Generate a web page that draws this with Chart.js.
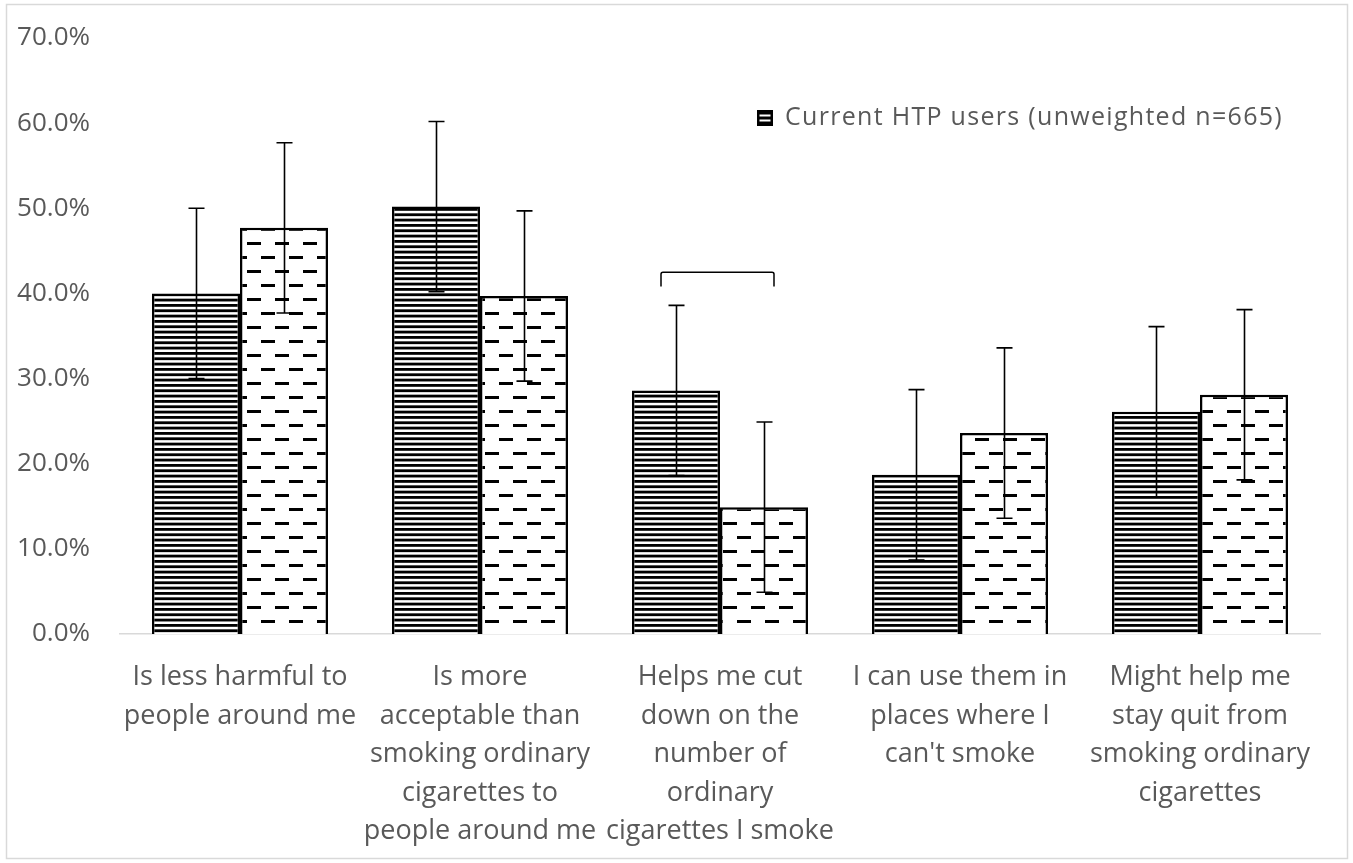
<!DOCTYPE html>
<html>
<head>
<meta charset="utf-8">
<script src="https://cdn.jsdelivr.net/npm/chart.js@4/dist/chart.umd.min.js"></script>
<style>
  html, body { margin: 0; padding: 0; background: #fff; }
  #wrap { width: 1353px; height: 863px; }
</style>
</head>
<body>
<div id="wrap"><canvas id="c" width="1353" height="863"></canvas></div>
<script>
// Reasons for using heated tobacco products, share agreeing (%)
const categories = [
  ["Is less harmful to", "people around me"],
  ["Is more", "acceptable than", "smoking ordinary", "cigarettes to", "people around me"],
  ["Helps me cut", "down on the", "number of", "ordinary", "cigarettes I smoke"],
  ["I can use them in", "places where I", "can't smoke"],
  ["Might help me", "stay quit from", "smoking ordinary", "cigarettes"]
];
const currentUsers = [40.0, 50.2, 28.6, 18.7, 26.1];
const currentUsersErr = [10.0, 10.0, 10.0, 10.0, 10.0];
const secondGroup = [47.7, 39.7, 14.9, 23.6, 28.1];
const secondGroupErr = [10.0, 10.0, 10.0, 10.0, 10.0];
const legendLabel = "Current HTP users (unweighted n=665)";
const yTicks = [0, 10, 20, 30, 40, 50, 60, 70];
// comparison bracket over the third category: [category index, top value, foot value]
const bracket = [2, 42.5, 40.8];

const TEXT = '#595959';
const FONT = '"Open Sans", "DejaVu Sans", sans-serif';

// horizontal-stripe fill
function stripePattern() {
  const t = document.createElement('canvas');
  t.width = 16; t.height = 16;
  const g = t.getContext('2d');
  g.fillStyle = '#fff'; g.fillRect(0, 0, 16, 16);
  g.fillStyle = '#000';
  for (let i = 0; i < 3; i++) g.fillRect(0, i * 16 / 3, 16, 2.8);
  return g.createPattern(t, 'repeat');
}
// staggered dash fill
function dashPattern() {
  const t = document.createElement('canvas');
  t.width = 28; t.height = 28;
  const g = t.getContext('2d');
  g.fillStyle = '#fff'; g.fillRect(0, 0, 28, 28);
  g.fillStyle = '#000';
  g.fillRect(9, 4, 14, 3);
  g.fillRect(23, 18, 14, 3);
  g.fillRect(-5, 18, 14, 3);
  return g.createPattern(t, 'repeat');
}

const frame = {
  id: 'frame',
  beforeDraw(chart) {
    const c = chart.ctx;
    c.save();
    c.fillStyle = '#fff';
    c.fillRect(0, 0, chart.width, chart.height);
    c.strokeStyle = '#d9d9d9';
    c.lineWidth = 1.5;
    c.strokeRect(6.5, 4.5, 1341, 854);
    c.restore();
  }
};

const errorBars = {
  id: 'errorBars',
  afterDatasetsDraw(chart) {
    const c = chart.ctx;
    const y = chart.scales.y;
    const errs = [currentUsersErr, secondGroupErr];
    c.save();
    c.strokeStyle = '#000';
    c.lineWidth = 1.6;
    chart.data.datasets.forEach((ds, di) => {
      const meta = chart.getDatasetMeta(di);
      meta.data.forEach((bar, i) => {
        const v = ds.data[i], e = errs[di][i];
        const x = Math.round(bar.x) + 0.5;
        const yt = y.getPixelForValue(v + e);
        const yb = y.getPixelForValue(v - e);
        c.beginPath();
        c.moveTo(x, yt); c.lineTo(x, yb);
        c.moveTo(x - 8, yt); c.lineTo(x + 8, yt);
        c.moveTo(x - 8, yb); c.lineTo(x + 8, yb);
        c.stroke();
      });
    });
    // bracket
    const [bi, top, foot] = bracket;
    const b0 = chart.getDatasetMeta(0).data[bi];
    const b1 = chart.getDatasetMeta(1).data[bi];
    const xl = b0.x - 15, xr = b1.x + 10;
    const yt = y.getPixelForValue(top), yf = y.getPixelForValue(foot);
    c.lineWidth = 1.5;
    c.beginPath();
    c.moveTo(xl, yf); c.lineTo(xl, yt + 2);
    c.quadraticCurveTo(xl, yt, xl + 2, yt);
    c.lineTo(xr - 2, yt);
    c.quadraticCurveTo(xr, yt, xr, yt + 2);
    c.lineTo(xr, yf);
    c.stroke();
    c.restore();
  }
};

const legendBox = {
  id: 'legendBox',
  afterDraw(chart) {
    const c = chart.ctx;
    c.save();
    const bx = 757, by = 110;
    c.fillStyle = '#000';
    c.fillRect(bx, by, 16, 16);
    c.fillStyle = '#fff';
    c.fillRect(bx + 2.5, by + 4.5, 11, 2);
    c.fillRect(bx + 2.5, by + 9.5, 11, 2);
    c.fillStyle = TEXT;
    c.font = '25px ' + FONT;
    if ('letterSpacing' in c) c.letterSpacing = '1.3px';
    c.textBaseline = 'middle';
    c.textAlign = 'left';
    c.fillText(legendLabel, 785, 118);
    c.restore();
  }
};

new Chart(document.getElementById('c'), {
  type: 'bar',
  data: {
    labels: categories,
    datasets: [
      {
        label: legendLabel,
        data: currentUsers,
        backgroundColor: stripePattern(),
        borderColor: '#000',
        borderWidth: 2.5,
        borderSkipped: 'start',
        categoryPercentage: 0.7333,
        barPercentage: 1.0
      },
      {
        label: '',
        data: secondGroup,
        backgroundColor: dashPattern(),
        borderColor: '#000',
        borderWidth: 2.5,
        borderSkipped: 'start',
        categoryPercentage: 0.7333,
        barPercentage: 1.0
      }
    ]
  },
  options: {
    responsive: false,
    animation: false,
    devicePixelRatio: 1,
    layout: { padding: { left: 10, right: 33, top: 38, bottom: 0 } },
    plugins: {
      legend: { display: false },
      tooltip: { enabled: false }
    },
    scales: {
      x: {
        grid: { display: false, drawTicks: false },
        border: { display: true, color: '#d9d9d9', width: 1.5 },
        ticks: {
          color: TEXT,
          padding: 24,
          maxRotation: 0,
          autoSkip: false,
          font: { family: FONT, size: 27, lineHeight: 1.43 }
        },
        afterFit(s) { s.height = 229; s.paddingLeft = 0; s.paddingRight = 0; }
      },
      y: {
        min: 0,
        max: 70,
        grid: { display: false, drawTicks: false },
        border: { display: false },
        afterBuildTicks(s) { s.ticks = yTicks.map(v => ({ value: v })); },
        ticks: {
          color: TEXT,
          padding: 30,
          font: { family: FONT, size: 26 },
          callback: v => v.toFixed(1) + '%'
        },
        afterFit(s) { s.width = 110; s.paddingTop = 0; s.paddingBottom = 0; }
      }
    }
  },
  plugins: [frame, errorBars, legendBox]
});
</script>
</body>
</html>
